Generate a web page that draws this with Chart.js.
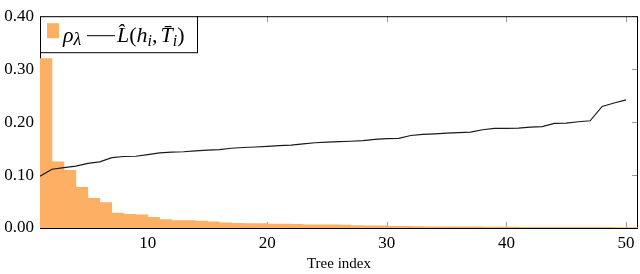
<!DOCTYPE html>
<html>
<head>
<meta charset="utf-8">
<script src="https://cdn.jsdelivr.net/npm/chart.js@4"></script>
<style>
  html, body { margin: 0; padding: 0; background: #fff; }
  #wrap { width: 640px; height: 274px; position: relative; }
</style>
</head>
<body>
<div id="wrap"><canvas id="chart"></canvas></div>
<script>
// weights rho_lambda per tree (bars)
const rhoValues = [
  0.32, 0.125, 0.109, 0.077, 0.056, 0.048, 0.028, 0.026, 0.025, 0.020,
  0.016, 0.014, 0.014, 0.013, 0.0115, 0.0096, 0.0086, 0.0084, 0.0082, 0.0074,
  0.0072, 0.007, 0.006, 0.006, 0.0058, 0.0055, 0.0045, 0.004, 0.004, 0.003,
  0.003, 0.0025, 0.002, 0.002, 0.002, 0.002, 0.002, 0.0018, 0.0018, 0.0016,
  0.0015, 0.0014, 0.0013, 0.0013, 0.0012, 0.0012, 0.0011, 0.0011, 0.001, 0.001
];

// empirical loss L(h_i, T_i) per tree (line)
const lossValues = [
  0.098, 0.111, 0.114, 0.117, 0.122, 0.125, 0.133, 0.135, 0.1355, 0.1385,
  0.142, 0.1434, 0.144, 0.1458, 0.147, 0.148, 0.1506, 0.152, 0.153, 0.154,
  0.1555, 0.1566, 0.159, 0.161, 0.162, 0.163, 0.1638, 0.165, 0.1675, 0.1687,
  0.1693, 0.1747, 0.177, 0.1778, 0.179, 0.180, 0.181, 0.1855, 0.188, 0.188,
  0.1886, 0.1904, 0.1916, 0.1976, 0.198, 0.2007, 0.2025, 0.2296, 0.236, 0.242
];

const treeIndex = lossValues.map((_, i) => i + 1);
const xTicks = [10, 20, 30, 40, 50];
const yTicks = [0, 0.1, 0.2, 0.3, 0.4];

const barColor = '#fdb063';
const serif = '"Liberation Serif", "DejaVu Serif", serif';

// frame + inward ticks, drawn under the data like pgfplots
const frameTicks = {
  id: 'frameTicks',
  beforeDatasetsDraw(chart) {
    const { ctx, chartArea: a, scales } = chart;
    ctx.save();
    ctx.strokeStyle = '#9a9a9a';
    ctx.lineWidth = 1;
    ctx.beginPath();
    xTicks.forEach(v => {
      const px = Math.round(scales.x.getPixelForValue(v)) + 0.5;
      ctx.moveTo(px, a.bottom); ctx.lineTo(px, a.bottom - 6);
      ctx.moveTo(px, a.top); ctx.lineTo(px, a.top + 6);
    });
    yTicks.forEach(v => {
      const py = Math.round(scales.y.getPixelForValue(v)) + 0.5;
      ctx.moveTo(a.left, py); ctx.lineTo(a.left + 6, py);
      ctx.moveTo(a.right, py); ctx.lineTo(a.right - 6, py);
    });
    ctx.stroke();
    ctx.strokeStyle = '#000';
    ctx.strokeRect(a.left + 0.5, a.top + 0.5, a.right - a.left - 1, a.bottom - a.top);
    ctx.restore();
  }
};

// legend box with math-style labels
const mathLegend = {
  id: 'mathLegend',
  afterDraw(chart) {
    const { ctx, chartArea: a } = chart;
    const x0 = a.left, y0 = a.top;
    ctx.save();
    ctx.fillStyle = '#fff';
    ctx.fillRect(x0, y0, 157, 36);
    ctx.strokeStyle = '#000';
    ctx.lineWidth = 1;
    ctx.strokeRect(x0 + 0.5, y0 + 0.5, 157, 36);

    ctx.fillStyle = barColor;
    ctx.fillRect(x0 + 7, y0 + 7, 12, 15);

    const base = y0 + 26;
    const big = 'italic 22px ' + serif;
    const small = 'italic 16px ' + serif;
    const upright = '22px ' + serif;
    let x = x0 + 23;
    ctx.fillStyle = '#000';
    ctx.textBaseline = 'alphabetic';
    const put = (t, font, dy = 0) => {
      ctx.font = font;
      ctx.fillText(t, x, base + dy);
      x += ctx.measureText(t).width;
    };
    put('ρ', big);
    put('λ', 'italic 18px ' + serif, 3);

    x = Math.max(x + 3, x0 + 47);
    ctx.beginPath();
    ctx.moveTo(x, base - 6.5);
    ctx.lineTo(x + 28, base - 6.5);
    ctx.stroke();
    x += 30;

    put('L\u0302', big);
    put('(', upright);
    put('h', big);
    put('i', small, 4);
    put(',', upright);
    x += 3;
    put('T\u0304', big);
    put('i', small, 4);
    put(')', upright);
    ctx.restore();
  }
};

new Chart(document.getElementById('chart'), {
  type: 'bar',
  data: {
    datasets: [
      {
        type: 'line',
        label: 'loss',
        data: treeIndex.map((t, i) => ({ x: t, y: lossValues[i] })),
        borderColor: '#1a1a1a',
        borderWidth: 1.2,
        pointRadius: 0,
        tension: 0,
        order: 0
      },
      {
        type: 'bar',
        label: 'rho',
        // each bar spans [i, i+1] (ybar interval)
        data: treeIndex.map((t, i) => ({ x: t + 0.5, y: rhoValues[i] })),
        backgroundColor: barColor,
        borderWidth: 0,
        barPercentage: 1,
        categoryPercentage: 1,
        grouped: false,
        order: 1
      }
    ]
  },
  options: {
    responsive: true,
    maintainAspectRatio: false,
    animation: false,
    layout: { padding: { top: 7, right: 2, left: 0, bottom: 0 } },
    plugins: {
      legend: { display: false },
      tooltip: { enabled: false }
    },
    scales: {
      x: {
        type: 'linear',
        min: 1,
        max: 51,
        offset: false,
        grid: { display: false, drawTicks: false },
        border: { display: false },
        afterBuildTicks: s => { s.ticks = xTicks.map(v => ({ value: v })); },
        afterFit: s => { s.height = 46; },
        ticks: {
          color: '#000',
          padding: 5,
          maxRotation: 0,
          font: { family: serif, size: 17 }
        },
        title: {
          display: true,
          text: 'Tree index',
          color: '#000',
          padding: { top: 0, bottom: 1 },
          font: { family: serif, size: 15 }
        }
      },
      y: {
        min: 0,
        max: 0.4,
        grid: { display: false, drawTicks: false },
        border: { display: false },
        afterBuildTicks: s => { s.ticks = yTicks.map(v => ({ value: v })); },
        afterFit: s => { s.width = 40; },
        ticks: {
          color: '#000',
          padding: 6,
          font: { family: serif, size: 17 },
          callback: v => v.toFixed(2)
        }
      }
    }
  },
  plugins: [frameTicks, mathLegend]
});
</script>
</body>
</html>
